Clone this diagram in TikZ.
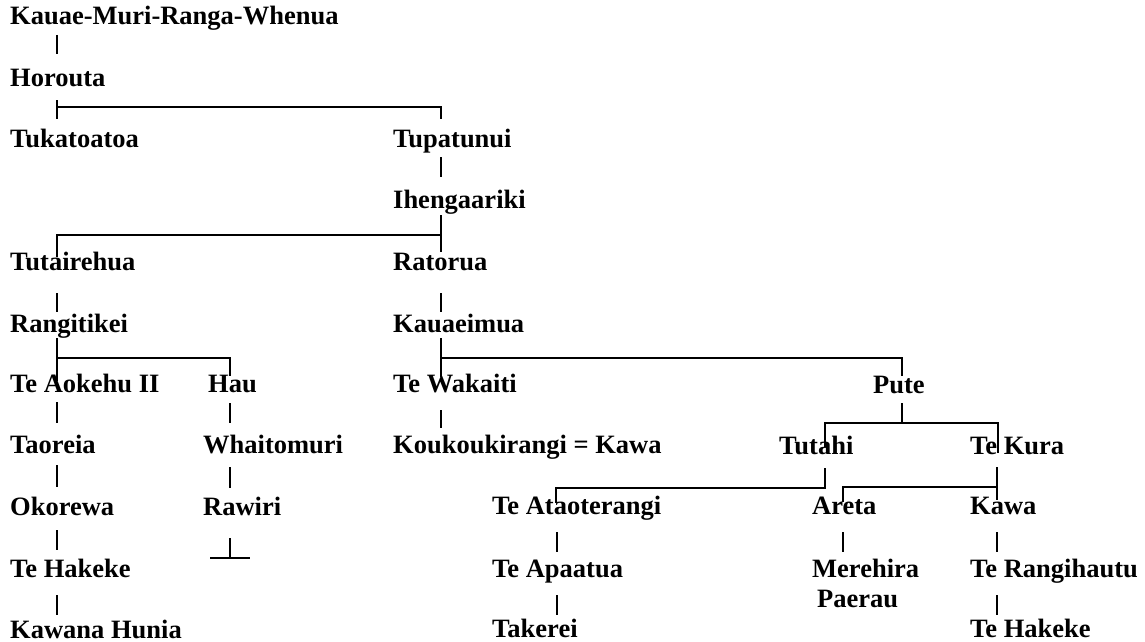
\documentclass[tikz,border=0pt]{standalone}
\usepackage{fontspec}
\setmainfont{Liberation Serif}
\begin{document}
\begin{tikzpicture}[x=1pt,y=-1pt,
  nm/.style={anchor=base west,inner sep=0pt,font=\fontsize{26.5}{30}\selectfont\bfseries},
  ln/.style={line width=1.5pt}]
\useasboundingbox (0,0) rectangle (1145,642);
% names
\node[nm] (k)   at (10,25)  {Kauae-Muri-Ranga-Whenua};
\node[nm] (ho)  at (10,86)  {Horouta};
\node[nm] (tuk) at (10,147) {Tukatoatoa};
\node[nm] (tup) at (393,147) {Tupatunui};
\node[nm] (ihe) at (393,208) {Ihengaariki};
\node[nm] (tut) at (10,270) {Tutairehua};
\node[nm] (rat) at (393,270) {Ratorua};
\node[nm] (ran) at (10,332) {Rangitikei};
\node[nm] (kau) at (393,332) {Kauaeimua};
\node[nm] (aok) at (10,392) {Te Aokehu II};
\node[nm] (hau) at (208,392) {Hau};
\node[nm] (wak) at (393,392) {Te Wakaiti};
\node[nm] (put) at (873,393) {Pute};
\node[nm] (tao) at (10,453) {Taoreia};
\node[nm] (wha) at (203,453) {Whaitomuri};
\node[nm] (kou) at (393,453) {Koukoukirangi = Kawa};
\node[nm] (tth) at (779,454) {Tutahi};
\node[nm] (tkr) at (970,454) {Te Kura};
\node[nm] (oko) at (10,515) {Okorewa};
\node[nm] (raw) at (203,515) {Rawiri};
\node[nm] (ata) at (492,514) {Te Ataoterangi};
\node[nm] (are) at (812,514) {Areta};
\node[nm] (kaw) at (970,514) {Kawa};
\node[nm] (hak) at (10,577) {Te Hakeke};
\node[nm] (apa) at (492,577) {Te Apaatua};
\node[nm,align=left] (mer) at (812,607) {Merehira\\\hspace*{5pt}Paerau};
\node[nm] (rhu) at (970,577) {Te Rangihautu};
\node[nm] (kwh) at (10,638) {Kawana Hunia};
\node[nm] (tak) at (492,637) {Takerei};
\node[nm] (thk) at (970,637) {Te Hakeke};
% connectors
\draw[ln] (57,35) -- (57,54);
\draw[ln] (57,100) -- (57,119);
\draw[ln] (57,107) -- (441,107) -- (441,119);
\draw[ln] (441,157) -- (441,177);
\draw[ln] (441,215) -- (441,252);
\draw[ln] (441,235) -- (57,235) -- (57,257);
\draw[ln] (57,293) -- (57,312);
\draw[ln] (441,293) -- (441,312);
\draw[ln] (57,338) -- (57,381);
\draw[ln] (57,358) -- (230,358) -- (230,376);
\draw[ln] (441,338) -- (441,377);
\draw[ln] (441,358) -- (902,358) -- (902,376);
\draw[ln] (57,402) -- (57,423);
\draw[ln] (230,403) -- (230,423);
\draw[ln] (441,410) -- (441,428);
\draw[ln] (902,403) -- (902,423);
\draw[ln] (825,447) -- (825,423) -- (998,423) -- (998,453);
\draw[ln] (57,465) -- (57,487);
\draw[ln] (230,467) -- (230,488);
\draw[ln] (825,468) -- (825,488) -- (556,488) -- (556,503);
\draw[ln] (997,467) -- (997,500);
\draw[ln] (997,487) -- (843,487) -- (843,502);
\draw[ln] (57,530) -- (57,550);
\draw[ln] (230,538) -- (230,558);
\draw[ln] (210,558) -- (250,558);
\draw[ln] (557,532) -- (557,552);
\draw[ln] (843,532) -- (843,552);
\draw[ln] (997,532) -- (997,552);
\draw[ln] (57,595) -- (57,615);
\draw[ln] (557,595) -- (557,615);
\draw[ln] (997,595) -- (997,615);
\end{tikzpicture}
\end{document}
